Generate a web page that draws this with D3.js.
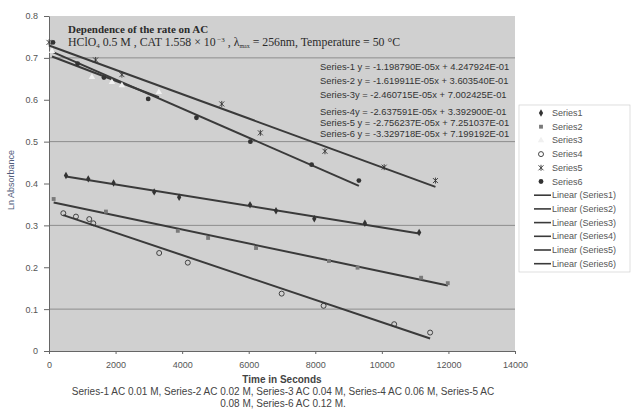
<!DOCTYPE html>
<html>
<head>
<meta charset="utf-8">
<script src="https://cdn.jsdelivr.net/npm/d3@7"></script>
<style>
  body { margin:0; background:#fff; }
  svg { display:block; font-family: Arial, "Liberation Sans", sans-serif; }
</style>
</head>
<body>
<svg width="632" height="411"></svg>
<script>
/*--------------------------------------------------------------------------------*/
/*  DATA   */
var timeS1 = [510, 1180, 1940, 3160, 3910, 6040, 6820, 7970, 9490, 11120];
var absS1  = [0.419, 0.411, 0.401, 0.380, 0.367, 0.349, 0.335, 0.316, 0.305, 0.283];

var timeS2 = [140, 1710, 3870, 4780, 6220, 8410, 9270, 11180, 11980];
var absS2  = [0.363, 0.333, 0.287, 0.270, 0.246, 0.215, 0.199, 0.175, 0.162];

var timeS3 = [90, 1290, 1890, 2190, 3300];
var absS3  = [0.716, 0.654, 0.642, 0.634, 0.618];

var timeS4 = [430, 810, 1210, 1330, 3310, 4170, 6990, 8250, 10370, 11450];
var absS4  = [0.329, 0.321, 0.315, 0.305, 0.234, 0.211, 0.137, 0.108, 0.064, 0.044];

var timeS5 = [0, 1400, 2190, 5190, 6350, 8290, 10070, 11610];
var absS5  = [0.737, 0.695, 0.660, 0.590, 0.521, 0.477, 0.439, 0.407];

var timeS6 = [120, 860, 1650, 2980, 4430, 6050, 7890, 9310];
var absS6  = [0.737, 0.686, 0.653, 0.602, 0.557, 0.500, 0.445, 0.407];

var seriesNames = ["Series1", "Series2", "Series3", "Series4", "Series5", "Series6"];

var equationLabels = [
  "Series-1 y = -1.198790E-05x + 4.247924E-01",
  "Series-2 y = -1.619911E-05x + 3.603540E-01",
  "Series-3y = -2.460715E-05x + 7.002425E-01",
  "Series-4y = -2.637591E-05x + 3.392900E-01",
  "Series-5 y = -2.756237E-05x + 7.251037E-01",
  "Series-6 y = -3.329718E-05x + 7.199192E-01"
];

var xTicks = [0, 2000, 4000, 6000, 8000, 10000, 12000, 14000];
var yTicks = [0, 0.1, 0.2, 0.3, 0.4, 0.5, 0.6, 0.7, 0.8];
var gridValues = [0.1, 0.3, 0.5, 0.7];

var captionLines = [
  "Series-1 AC 0.01 M, Series-2 AC 0.02 M, Series-3 AC 0.04 M, Series-4 AC 0.06 M, Series-5 AC",
  "0.08 M, Series-6 AC 0.12 M."
];

/*--------------------------------------------------------------------------------*/
/*  SETUP   */
var svg = d3.select("svg");
var x = d3.scaleLinear().domain([0, 14000]).range([49, 515]);
var y = d3.scaleLinear().domain([0, 0.8]).range([351, 16]);
var INK = "#333";

var series = [
  {name: seriesNames[0], t: timeS1, v: absS1, mark: "diamond"},
  {name: seriesNames[1], t: timeS2, v: absS2, mark: "square"},
  {name: seriesNames[2], t: timeS3, v: absS3, mark: "triangle"},
  {name: seriesNames[3], t: timeS4, v: absS4, mark: "ring"},
  {name: seriesNames[4], t: timeS5, v: absS5, mark: "star"},
  {name: seriesNames[5], t: timeS6, v: absS6, mark: "dot"}
];

// least squares, same as excel's linear trendline
function fitLine(xs, ys) {
  var mx = d3.mean(xs), my = d3.mean(ys);
  var sxy = d3.sum(xs, function(v, i) { return (v - mx) * (ys[i] - my); });
  var sxx = d3.sum(xs, function(v) { return (v - mx) * (v - mx); });
  var b = sxy / sxx;
  return {slope: b, icpt: my - b * mx};
}

function drawMarker(g, mark, cx, cy) {
  var tr = "translate(" + cx + "," + cy + ")";
  if (mark === "diamond") {
    g.append("path").attr("d", d3.symbol(d3.symbolDiamond, 16)()).attr("transform", tr).attr("fill", INK);
  } else if (mark === "square") {
    g.append("path").attr("d", d3.symbol(d3.symbolSquare, 15)()).attr("transform", tr).attr("fill", "#7a7a7a");
  } else if (mark === "triangle") {
    g.append("path").attr("d", d3.symbol(d3.symbolTriangle, 18)()).attr("transform", tr).attr("fill", "#f0f0f0");
  } else if (mark === "ring") {
    g.append("circle").attr("cx", cx).attr("cy", cy).attr("r", 2.5)
      .attr("fill", "none").attr("stroke", INK).attr("stroke-width", 0.9);
  } else if (mark === "star") {
    g.append("path").attr("d", "M-2.5,-2.5L2.5,2.5M-2.5,2.5L2.5,-2.5M0,-3L0,3")
      .attr("transform", tr).attr("stroke", INK).attr("stroke-width", 0.9).attr("fill", "none");
  } else {
    g.append("circle").attr("cx", cx).attr("cy", cy).attr("r", 2.4).attr("fill", INK);
  }
}

/*--------------------------------------------------------------------------------*/
/*  PLOT AREA   */
svg.append("rect")
  .attr("x", x(0)).attr("y", y(0.8))
  .attr("width", x(14000) - x(0)).attr("height", y(0) - y(0.8))
  .attr("fill", "#d0d0d0");

svg.append("g").selectAll("line").data(gridValues).enter().append("line")
  .attr("x1", x(0)).attr("x2", x(14000))
  .attr("y1", function(d) { return y(d); }).attr("y2", function(d) { return y(d); })
  .attr("stroke", "#8c8c8c").attr("stroke-width", 1);

var yAxis = svg.append("g").attr("transform", "translate(" + x(0) + ",0)")
  .call(d3.axisLeft(y).tickValues(yTicks).tickSize(5).tickSizeOuter(0).tickPadding(6)
    .tickFormat(function(d) { return d; }));
var xAxis = svg.append("g").attr("transform", "translate(0," + y(0) + ")")
  .call(d3.axisBottom(x).tickValues(xTicks).tickSize(3).tickSizeOuter(0).tickPadding(8)
    .tickFormat(function(d) { return d; }));

[yAxis, xAxis].forEach(function(a) {
  a.select(".domain").attr("stroke", "#666");
  a.selectAll(".tick line").attr("stroke", "#666");
  a.selectAll("text").attr("fill", "#555").style("font-size", "9px")
    .style("font-family", "Arial, 'Liberation Sans', sans-serif");
});

/*--------------------------------------------------------------------------------*/
/*  TRENDLINES + POINTS   */
var trendG = svg.append("g");
var markG = svg.append("g");
series.forEach(function(s) {
  var f = fitLine(s.t, s.v);
  var t0 = d3.min(s.t), t1 = d3.max(s.t);
  trendG.append("line")
    .attr("x1", x(t0)).attr("y1", y(f.icpt + f.slope * t0))
    .attr("x2", x(t1)).attr("y2", y(f.icpt + f.slope * t1))
    .attr("stroke", "#3a3a3a").attr("stroke-width", 2);
  s.t.forEach(function(t, i) { drawMarker(markG, s.mark, x(t), y(s.v[i])); });
});

/*--------------------------------------------------------------------------------*/
/*  TEXT IN THE PLOT   */
svg.append("text").attr("x", 68).attr("y", 33)
  .style("font-family", "'Liberation Serif', 'Times New Roman', serif")
  .style("font-size", "11px").style("font-weight", "bold").attr("fill", "#2b2b2b")
  .text("Dependence of the rate on  AC");

var sub = svg.append("text").attr("x", 68).attr("y", 46)
  .style("font-family", "'Liberation Serif', 'Times New Roman', serif")
  .style("font-size", "11.8px").attr("fill", "#2b2b2b");
sub.append("tspan").text("HClO");
sub.append("tspan").attr("dy", 2).style("font-size", "7px").text("4");
sub.append("tspan").attr("dy", -2).text(" 0.5 M , CAT 1.558 \u00d7 10");
sub.append("tspan").attr("dy", -4).style("font-size", "7px").text(" \u22123");
sub.append("tspan").attr("dy", 4).text("   , \u03bb");
sub.append("tspan").attr("dy", 2).style("font-size", "6px").text("max");
sub.append("tspan").attr("dy", -2).text(" = 256nm, Temperature = 50 \u00b0C");

var eqY = [70, 84, 98, 115, 126, 137];
svg.append("g").selectAll("text").data(equationLabels).enter().append("text")
  .attr("x", 320).attr("y", function(d, i) { return eqY[i]; })
  .style("font-size", "9.4px").attr("fill", INK)
  .text(function(d) { return d; });

/*--------------------------------------------------------------------------------*/
/*  LEGEND   */
var legend = svg.append("g");
legend.append("rect").attr("x", 519).attr("y", 105).attr("width", 111).attr("height", 167)
  .attr("fill", "#fff").attr("stroke", "#c8c8c8").attr("stroke-width", 0.6);
var rowY = function(i) { return 113 + i * 13.7; };
series.forEach(function(s, i) {
  drawMarker(legend, s.mark, 541, rowY(i));
  legend.append("text").attr("x", 552).attr("y", rowY(i) + 3)
    .style("font-size", "9px").attr("fill", "#555").text(s.name);
});
series.forEach(function(s, i) {
  var ly = rowY(i + 6);
  legend.append("line").attr("x1", 534).attr("x2", 551).attr("y1", ly).attr("y2", ly)
    .attr("stroke", "#3a3a3a").attr("stroke-width", 1.6);
  legend.append("text").attr("x", 552).attr("y", ly + 3)
    .style("font-size", "9px").attr("fill", "#555").text("Linear (" + s.name + ")");
});

/*--------------------------------------------------------------------------------*/
/*  AXIS TITLES + CAPTION   */
svg.append("text").attr("transform", "translate(14,180) rotate(-90)")
  .attr("text-anchor", "middle").style("font-size", "9px").attr("fill", "#4f5b7a")
  .text("Ln Absorbance");

svg.append("text").attr("x", 282).attr("y", 383).attr("text-anchor", "middle")
  .style("font-size", "10px").style("font-weight", "bold").attr("fill", "#444")
  .text("Time in Seconds");

svg.append("g").selectAll("text").data(captionLines).enter().append("text")
  .attr("x", 283).attr("y", function(d, i) { return 395 + i * 12; })
  .attr("text-anchor", "middle").style("font-size", "10px").attr("fill", "#444")
  .text(function(d) { return d; });
</script>
</body>
</html>
